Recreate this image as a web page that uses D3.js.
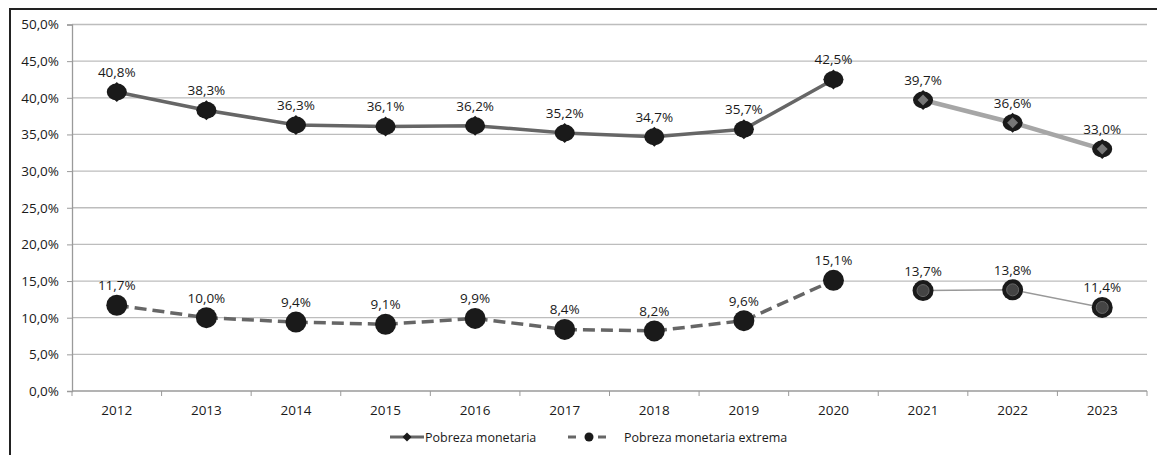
<!DOCTYPE html>
<html>
<head>
<meta charset="utf-8">
<script src="https://cdn.jsdelivr.net/npm/d3@7"></script>
<style>
  body { margin: 0; background: #fff; }
  svg { display: block; font-family: "Open Sans", "Noto Sans", sans-serif; }
</style>
</head>
<body>
<svg id="chart" width="1157" height="455"></svg>
<script>
// data
const years = ["2012","2013","2014","2015","2016","2017","2018","2019","2020","2021","2022","2023"];
const pobreza = [40.8, 38.3, 36.3, 36.1, 36.2, 35.2, 34.7, 35.7, 42.5, 39.7, 36.6, 33.0];
const pobrezaExtrema = [11.7, 10.0, 9.4, 9.1, 9.9, 8.4, 8.2, 9.6, 15.1, 13.7, 13.8, 11.4];
const yTicks = [0, 5, 10, 15, 20, 25, 30, 35, 40, 45, 50];
const breakYear = "2021"; // series style changes from here

const width = 1157, height = 455;
const margin = { left: 72, right: 10, top: 24.5, bottom: 64 };

const svg = d3.select("#chart");

// outer frame (left + top only visible)
svg.append("path")
  .attr("d", `M10,${height} L10,9 L${width},9`)
  .attr("fill", "none")
  .attr("stroke", "#222")
  .attr("stroke-width", 2);

const x = d3.scaleBand()
  .domain(years)
  .range([margin.left, width - margin.right]);

const y = d3.scaleLinear()
  .domain([0, 50])
  .range([height - margin.bottom, margin.top]);

const fmt = v => v.toFixed(1).replace(".", ",") + "%";

// gridlines
svg.append("g")
  .selectAll("line")
  .data(yTicks.filter(d => d > 0))
  .join("line")
  .attr("x1", margin.left).attr("x2", width - margin.right)
  .attr("y1", d => y(d)).attr("y2", d => y(d))
  .attr("stroke", "#bdbdbd").attr("stroke-width", 1.3);

// y axis
const yAxis = svg.append("g")
  .attr("transform", `translate(${margin.left},0)`)
  .call(d3.axisLeft(y).tickValues(yTicks).tickFormat(fmt).tickSize(5).tickPadding(8));
yAxis.select(".domain").attr("stroke", "#9a9a9a").attr("stroke-width", 1.3);
yAxis.selectAll(".tick line").attr("stroke", "#9a9a9a");
yAxis.selectAll("text").attr("font-size", 13.5).attr("fill", "#1a1a1a")
  .attr("font-family", "Open Sans, Noto Sans, sans-serif");

// x axis (category boundaries ticks)
const xAxisG = svg.append("g")
  .attr("transform", `translate(0,${y(0)})`);
xAxisG.append("line")
  .attr("x1", margin.left).attr("x2", width - margin.right)
  .attr("stroke", "#9a9a9a").attr("stroke-width", 1.3);
xAxisG.selectAll("line.tk")
  .data(years.concat(["end"]))
  .join("line")
  .attr("class", "tk")
  .attr("x1", (d, i) => margin.left + i * x.step())
  .attr("x2", (d, i) => margin.left + i * x.step())
  .attr("y1", 0).attr("y2", 5)
  .attr("stroke", "#9a9a9a");
xAxisG.selectAll("text")
  .data(years)
  .join("text")
  .attr("x", d => x(d) + x.bandwidth() / 2)
  .attr("y", 24)
  .attr("text-anchor", "middle")
  .attr("font-size", 13.5)
  .attr("fill", "#1a1a1a")
  .text(d => d);

const cx = d => x(d) + x.bandwidth() / 2;
const rows1 = years.map((yr, i) => ({ yr, v: pobreza[i] }));
const rows2 = years.map((yr, i) => ({ yr, v: pobrezaExtrema[i] }));
const bi = years.indexOf(breakYear);

const line = d3.line().x(d => cx(d.yr)).y(d => y(d.v));

// extrema: dashed part then thin part
svg.append("path")
  .attr("d", line(rows2.slice(0, bi)))
  .attr("fill", "none").attr("stroke", "#666").attr("stroke-width", 3.5)
  .attr("stroke-dasharray", "12,6");
svg.append("path")
  .attr("d", line(rows2.slice(bi)))
  .attr("fill", "none").attr("stroke", "#999").attr("stroke-width", 1.5);

// monetaria: dark part then light thick part
svg.append("path")
  .attr("d", line(rows1.slice(0, bi)))
  .attr("fill", "none").attr("stroke", "#666").attr("stroke-width", 3.5);
svg.append("path")
  .attr("d", line(rows1.slice(bi)))
  .attr("fill", "none").attr("stroke", "#a6a6a6").attr("stroke-width", 4.5);

// markers monetaria (square diamond over a round blob)
const sq = d3.symbol().type(d3.symbolSquare);
const m1 = svg.append("g").selectAll("g").data(rows1).join("g")
  .attr("transform", d => `translate(${cx(d.yr)},${y(d.v)})`);
m1.append("ellipse").attr("rx", 10).attr("ry", 8.5).attr("fill", "#1a1a1a");
m1.append("path").attr("d", sq.size(200)).attr("transform", "rotate(45)").attr("fill", "#1a1a1a");
m1.filter((d, i) => i >= bi).append("path")
  .attr("d", sq.size(60)).attr("transform", "rotate(45)").attr("fill", "#777");

// markers extrema
const m2 = svg.append("g").selectAll("g").data(rows2).join("g")
  .attr("transform", d => `translate(${cx(d.yr)},${y(d.v)})`);
m2.append("circle").attr("r", 10.5).attr("fill", "#1a1a1a");
m2.filter((d, i) => i >= bi).append("circle")
  .attr("r", 6).attr("fill", "#444").attr("stroke", "#666").attr("stroke-width", 1);

// data labels
function labels(rows) {
  svg.append("g").selectAll("text").data(rows).join("text")
    .attr("x", d => cx(d.yr))
    .attr("y", d => y(d.v) - 15)
    .attr("text-anchor", "middle")
    .attr("font-size", 13.5)
    .attr("fill", "#1a1a1a")
    .text(d => fmt(d.v));
}
labels(rows1);
labels(rows2);

// legend
const lg = svg.append("g").attr("transform", "translate(0,437)");
lg.append("line").attr("x1", 390).attr("x2", 424).attr("stroke", "#666").attr("stroke-width", 3);
lg.append("path").attr("transform", "translate(407,0) rotate(45)").attr("d", sq.size(40)).attr("fill", "#1a1a1a");
lg.append("text").attr("x", 425).attr("y", 4.5).attr("font-size", 12.5).attr("fill", "#1a1a1a")
  .text("Pobreza monetaria");
lg.append("line").attr("x1", 568).attr("x2", 610).attr("stroke", "#666").attr("stroke-width", 3)
  .attr("stroke-dasharray", "8,4,0,18,8");
lg.append("circle").attr("cx", 589).attr("r", 4.5).attr("fill", "#1a1a1a");
lg.append("text").attr("x", 624).attr("y", 4.5).attr("font-size", 12.5).attr("fill", "#1a1a1a")
  .text("Pobreza monetaria extrema");
</script>
</body>
</html>
